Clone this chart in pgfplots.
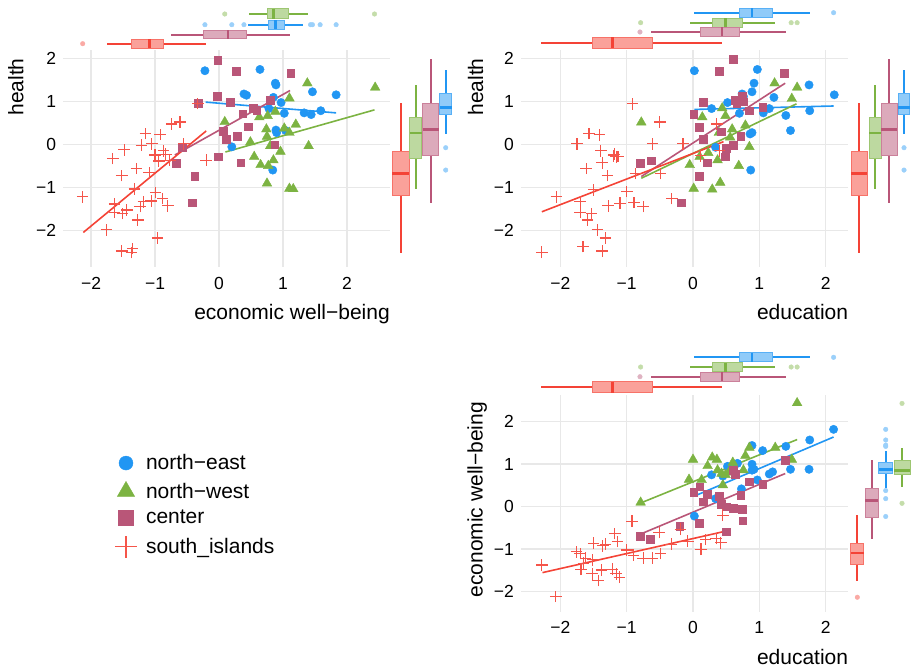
\documentclass[border=0pt]{standalone}
\usepackage{fontspec}
\setmainfont{Liberation Sans}
\usepackage{pgfplots}
\pgfplotsset{compat=1.18}
\usepgfplotslibrary{statistics}

\definecolor{cne}{HTML}{2196F3}
\definecolor{cnw}{HTML}{7CB342}
\definecolor{cce}{HTML}{B95678}
\definecolor{csi}{HTML}{F44336}
\definecolor{csil}{HTML}{F5554A}
\definecolor{gridc}{HTML}{E8E8E8}

% thin plus sign used for the south_islands points
\pgfdeclareplotmark{crs}{%
  \pgfpathmoveto{\pgfqpoint{-\pgfplotmarksize}{0pt}}%
  \pgfpathlineto{\pgfqpoint{\pgfplotmarksize}{0pt}}%
  \pgfpathmoveto{\pgfqpoint{0pt}{-\pgfplotmarksize}}%
  \pgfpathlineto{\pgfqpoint{0pt}{\pgfplotmarksize}}%
  \pgfusepathqstroke}

\newcommand\ticksize{\fontsize{17.5bp}{20bp}\selectfont}
\newcommand\labsize{\fontsize{21bp}{25bp}\selectfont}

\pgfplotsset{
  panel/.style={scale only axis, axis line style={draw=none},
    tick style={draw=none}, grid=major, major grid style={line width=1.5bp, color=gridc},
    xtick={-2,-1,0,1,2}, ytick={-2,-1,0,1,2},
    xticklabels={−2,−1,0,1,2}, yticklabels={−2,−1,0,1,2},
    tick label style={font=\ticksize},
    xticklabel style={anchor=base, inner sep=0pt, yshift=-22bp},
    yticklabel style={anchor=east, inner sep=0pt, xshift=-7bp},
    label style={font=\labsize, inner sep=0pt},
    xlabel style={at={(axis description cs:1,0)}, anchor=base east, yshift=-52bp}},
  margin/.style={scale only axis, hide axis, clip=false},
  ne/.style={only marks, mark=*, mark size=4.2bp, color=cne},
  nw/.style={only marks, mark=triangle*, mark size=5.6bp, color=cnw},
  ce/.style={only marks, mark=square*, mark size=3.9bp, color=cce},
  si/.style={only marks, mark=crs, mark size=5.8bp, color=csil, line width=1.2bp},
  fit/.style={line width=1.6bp, no marks},
  out/.style={only marks, mark=*, mark size=2.3bp, color=#1!45},
}

% marginal box: direction, colour, position, thickness, lw, lq, median, uq, uw
\newcommand\margbox[9]{%
  \addplot[boxplot prepared={draw direction=#1, draw position=#3, box extend=#4,
    lower whisker=#5, lower quartile=#6, median=#7, upper quartile=#8, upper whisker=#9,
    whisker extend=0,
    every box/.style={draw=#2!75, fill=#2!50, line width=1bp},
    every whisker/.style={draw=#2, line width=1.8bp},
    every median/.style={draw=#2, line width=2.6bp}}] coordinates {};}

\begin{document}
\begin{tikzpicture}[x=1bp,y=1bp]
\useasboundingbox (0,0) rectangle (911,-670);

% ---------------- economic well-being vs health ----------------
\begin{axis}[panel, at={(63.3bp,-267bp)}, anchor=south west, width=326.7bp, height=217bp,
  xmin=-2.433, xmax=2.672, ymin=-2.844, ymax=2.202,
  xlabel={economic well−being}, ylabel={health},
  ylabel style={at={(axis description cs:-0.122,0.962)}, anchor=base east}]
\addplot[ne] coordinates {(-0.22,1.72) (0.64,1.75) (0.88,1.43) (0.89,1.39) (1.46,1.23) (1.83,1.16)
  (0.39,1.18) (0.43,1.15) (0.85,1.10) (0.97,0.98) (0.78,0.84) (1.02,0.73) (1.33,0.74) (1.44,0.70)
  (1.59,0.79) (0.89,0.34) (0.90,0.28) (1.04,0.33) (0.20,-0.05) (0.84,-0.59)};
\addplot[nw] coordinates {(1.38,1.43) (2.44,1.33) (1.10,1.08) (0.63,0.64) (0.76,0.67) (0.88,0.77)
  (0.09,0.53) (0.74,0.36) (1.20,0.47) (1.02,0.38) (1.10,0.28) (0.75,0.19) (0.49,0.06) (0.80,-0.03)
  (1.40,-0.03) (0.96,-0.16) (0.55,-0.28) (0.65,-0.47) (0.85,-0.36) (0.77,-0.49) (0.75,-0.90)
  (1.10,-1.02) (1.16,-1.03)};
\addplot[ce] coordinates {(-0.02,1.97) (0.27,1.70) (1.12,1.67) (-0.03,1.12) (0.17,0.98) (-0.33,0.96)
  (0.80,1.04) (0.54,0.84) (0.59,0.81) (0.37,0.72) (0.45,0.42) (0.06,0.31) (0.11,0.12) (0.28,0.19)
  (-0.58,-0.07) (0.87,0.00) (-0.01,-0.28) (0.34,-0.42) (-0.67,-0.43) (-0.38,-0.74) (-0.42,-1.35)};
\addplot[si] coordinates {(-0.33,0.96) (-0.61,0.53) (-0.74,0.48) (-1.15,0.26) (-0.92,0.24) (-1.21,-0.01)
  (-1.05,0.02) (-0.55,0.02) (-1.48,-0.12) (-1.66,-0.32) (-0.87,-0.14) (-1.00,-0.24) (-0.83,-0.22)
  (-0.94,-0.38) (-0.77,-0.36) (-0.20,-0.36) (-1.29,-0.55) (-1.09,-0.65) (-1.52,-0.72) (-1.32,-1.03)
  (-0.99,-1.11) (-2.13,-1.21) (-0.88,-1.25) (-1.63,-1.38) (-1.18,-1.33) (-1.06,-1.31) (-1.23,-1.44)
  (-0.80,-1.42) (-1.63,-1.57) (-1.44,-1.52) (-1.51,-1.60) (-1.27,-1.75) (-1.76,-1.98) (-0.96,-2.17)
  (-1.52,-2.47) (-1.35,-2.41) (-1.37,-2.51)};
\addplot[fit, cne] coordinates {(-0.21,0.99) (1.83,0.74)};
\addplot[fit, cnw] coordinates {(0.10,-0.17) (2.43,0.81)};
\addplot[fit, cce] coordinates {(-0.69,-0.24) (1.11,1.26)};
\addplot[fit, csi] coordinates {(-2.12,-2.04) (-0.20,0.32)};
\end{axis}

% marginal boxes, economic well-being
\begin{axis}[margin, at={(63.3bp,-50bp)}, anchor=south west, width=326.7bp, height=50bp,
  xmin=-2.433, xmax=2.672, ymin=0, ymax=50, y dir=reverse]
\margbox{x}{cnw}{14}{10}{0.47}{0.75}{0.85}{1.09}{1.39}
\margbox{x}{cne}{24.7}{9}{0.45}{0.77}{0.88}{1.03}{1.32}
\margbox{x}{cce}{34.7}{8.5}{-0.75}{-0.25}{0.14}{0.43}{1.11}
\margbox{x}{csi}{43.7}{8.7}{-1.75}{-1.36}{-1.09}{-0.86}{-0.20}
\addplot[out=cnw] coordinates {(0.09,14) (2.43,14)};
\addplot[out=cne] coordinates {(-0.22,24.7) (0.20,24.7) (0.39,24.7) (1.43,24.7) (1.46,24.7) (1.58,24.7) (1.83,24.7)};
\addplot[out=csi] coordinates {(-2.13,43.7)};
\end{axis}

% marginal boxes, health
\begin{axis}[margin, at={(390bp,-267bp)}, anchor=south west, width=80bp, height=217bp,
  xmin=390, xmax=470, ymin=-2.844, ymax=2.202]
\margbox{y}{csi}{400.7}{16.7}{-2.51}{-1.19}{-0.67}{-0.16}{0.96}
\margbox{y}{cnw}{415.7}{11.7}{-1.04}{-0.32}{0.27}{0.64}{1.39}
\margbox{y}{cce}{430.7}{16}{-1.35}{-0.24}{0.36}{0.96}{1.99}
\margbox{y}{cne}{445.7}{11.7}{0.26}{0.71}{0.87}{1.18}{1.74}
\addplot[out=cne] coordinates {(445.7,-0.07) (445.7,-0.59)};
\end{axis}

% ---------------- education vs health ----------------
\begin{axis}[panel, at={(521bp,-267bp)}, anchor=south west, width=327.3bp, height=217bp,
  xmin=-2.594, xmax=2.342, ymin=-2.844, ymax=2.202,
  xlabel={education}, ylabel={health},
  ylabel style={at={(axis description cs:-0.116,0.962)}, anchor=base east}]
\addplot[ne] coordinates {(0.02,1.72) (0.97,1.75) (0.92,1.43) (0.74,1.18) (0.76,1.12) (0.89,1.23)
  (1.75,1.39) (1.22,1.10) (0.52,0.98) (0.28,0.84) (0.70,0.73) (1.06,0.74) (1.15,0.84) (1.76,0.79)
  (1.40,0.68) (2.13,1.16) (1.47,0.33) (0.89,0.28) (0.86,0.25) (0.34,-0.06) (0.87,-0.59)};
\addplot[nw] coordinates {(1.23,1.43) (1.57,1.33) (1.49,1.07) (0.44,0.85) (0.49,0.67) (0.14,0.64)
  (-0.78,0.52) (0.59,0.36) (0.79,0.45) (0.39,0.28) (0.56,0.17) (0.85,-0.05) (0.23,-0.19) (0.10,-0.28)
  (0.37,-0.36) (-0.05,-0.47) (0.69,-0.49) (0.01,-1.02) (0.29,-1.04) (0.41,-0.88)};
\addplot[ce] coordinates {(0.60,1.98) (0.39,1.70) (1.38,1.67) (0.15,0.98) (0.01,0.71) (0.63,1.04)
  (0.74,1.13) (0.66,0.96) (0.76,1.00) (0.85,0.79) (1.05,0.87) (0.09,0.40) (0.15,0.12) (0.42,0.30)
  (0.72,0.19) (0.60,-0.01) (0.50,-0.09) (0.48,-0.28) (-0.80,-0.43) (-0.63,-0.37) (0.21,-0.42)
  (0.09,-0.74) (-0.18,-1.35)};
\addplot[si] coordinates {(-0.91,0.95) (-0.50,0.53) (0.36,0.48) (-1.75,0.02) (-1.57,0.26) (-1.41,0.23)
  (-0.61,0.02) (-0.15,0.02) (-1.39,-0.14) (-1.19,-0.22) (-1.16,-0.28) (-1.20,-0.26) (-1.13,-0.27)
  (-1.37,-0.42) (-1.61,-0.55) (-1.29,-0.72) (-0.87,-0.67) (-0.49,-0.67) (0.11,-0.26) (0.40,-0.14)
  (-0.32,-1.25) (-1.50,-1.05) (-1.00,-1.09) (-2.06,-1.21) (-1.70,-1.33) (-1.28,-1.42) (-1.10,-1.36)
  (-0.89,-1.34) (-0.75,-1.44) (-1.70,-1.57) (-1.53,-1.60) (-1.59,-1.75) (-1.44,-1.98) (-1.32,-2.17)
  (-1.66,-2.37) (-1.37,-2.47) (-2.28,-2.50)};
\addplot[fit, cne] coordinates {(0.02,0.82) (2.12,0.90)};
\addplot[fit, cnw] coordinates {(-0.78,-0.78) (1.56,0.95)};
\addplot[fit, cce] coordinates {(-0.78,-0.74) (1.39,1.43)};
\addplot[fit, csi] coordinates {(-2.28,-1.56) (0.46,0.07)};
\end{axis}

% marginal boxes, education
\begin{axis}[margin, at={(521bp,-50bp)}, anchor=south west, width=327.3bp, height=50bp,
  xmin=-2.594, xmax=2.342, ymin=0, ymax=50, y dir=reverse]
\margbox{x}{cne}{12.7}{9}{0.02}{0.70}{0.89}{1.20}{1.77}
\margbox{x}{cnw}{22.7}{9}{-0.05}{0.29}{0.49}{0.74}{1.24}
\margbox{x}{cce}{32}{9}{-0.63}{0.11}{0.44}{0.70}{1.40}
\margbox{x}{csi}{42.7}{11}{-2.29}{-1.52}{-1.21}{-0.61}{0.44}
\addplot[out=cne] coordinates {(2.12,12.7)};
\addplot[out=cnw] coordinates {(-0.79,22.7) (1.48,22.7) (1.57,22.7)};
\addplot[out=cce] coordinates {(-0.80,32)};
\end{axis}

% marginal boxes, health
\begin{axis}[margin, at={(848.3bp,-267bp)}, anchor=south west, width=62.7bp, height=217bp,
  xmin=848.3, xmax=911, ymin=-2.844, ymax=2.202]
\margbox{y}{csi}{859.3}{15.7}{-2.51}{-1.19}{-0.67}{-0.16}{0.96}
\margbox{y}{cnw}{875}{12}{-1.04}{-0.32}{0.27}{0.64}{1.39}
\margbox{y}{cce}{889.3}{15.7}{-1.35}{-0.24}{0.36}{0.96}{1.99}
\margbox{y}{cne}{904}{11.7}{0.26}{0.71}{0.87}{1.18}{1.74}
\addplot[out=cne] coordinates {(904,-0.07) (904,-0.59)};
\end{axis}

% ---------------- education vs economic well-being ----------------
\begin{axis}[panel, at={(521bp,-611.7bp)}, anchor=south west, width=327.3bp, height=216.7bp,
  xmin=-2.594, xmax=2.342, ymin=-2.47, ymax=2.628,
  xlabel={education}, ylabel={economic well−being},
  xlabel style={yshift=-1bp},
  ylabel style={at={(axis description cs:-0.117,0.969)}, anchor=base east}]
\addplot[ne] coordinates {(2.12,1.82) (1.76,1.57) (0.89,1.44) (1.40,1.42) (1.05,1.32) (0.52,0.95)
  (0.67,1.02) (0.89,1.00) (0.89,0.86) (0.92,0.88) (1.47,0.88) (1.75,0.88) (1.20,0.82) (1.15,0.77)
  (0.28,0.75) (0.97,0.63) (0.45,0.72) (0.73,0.42) (0.34,0.19) (0.02,-0.22)};
\addplot[nw] coordinates {(1.57,2.44) (0.00,1.11) (0.29,1.16) (0.36,1.11) (0.60,1.04) (0.22,0.96)
  (0.37,0.86) (0.79,1.20) (0.85,1.39) (1.24,1.39) (1.49,1.11) (-0.06,0.64) (0.13,0.63) (0.43,0.78)
  (0.49,0.75) (0.54,0.81) (0.76,0.86) (0.45,0.51) (-0.79,0.10)};
\addplot[ce] coordinates {(1.39,1.10) (0.60,0.86) (0.64,0.77) (0.85,0.59) (1.05,0.53) (0.10,0.47)
  (0.01,0.35) (0.21,0.30) (0.15,0.12) (0.39,0.25) (0.72,0.28) (0.42,0.05) (0.50,0.00) (0.60,-0.03)
  (0.74,-0.05) (0.75,-0.33) (0.09,-0.39) (-0.20,-0.45) (0.50,-0.59) (-0.64,-0.76) (-0.80,-0.69)};
\addplot[si] coordinates {(0.45,-0.20) (-0.92,-0.34) (-1.18,-0.63) (-0.51,-0.61) (-0.19,-0.53)
  (-1.14,-0.82) (-1.32,-0.88) (-1.36,-0.92) (-1.50,-0.86) (-1.00,-1.02) (-0.90,-1.14) (-0.75,-1.21)
  (-0.61,-1.21) (-0.49,-1.10) (-0.33,-0.88) (-0.08,-0.81) (0.12,-1.00) (0.19,-0.77) (0.35,-0.75)
  (0.42,-0.85) (-1.76,-1.06) (-1.70,-1.10) (-1.62,-1.21) (-1.51,-1.25) (-1.65,-1.33) (-1.69,-1.47)
  (-1.52,-1.58) (-1.38,-1.49) (-1.22,-1.47) (-1.43,-1.74) (-1.16,-1.58) (-1.11,-1.66) (-2.28,-1.37)
  (-2.07,-2.11)};
\addplot[fit, cne] coordinates {(0.02,0.25) (2.12,1.64)};
\addplot[fit, cnw] coordinates {(-0.77,0.10) (1.57,1.58)};
\addplot[fit, cce] coordinates {(-0.77,-0.63) (1.39,0.78)};
\addplot[fit, csi] coordinates {(-2.27,-1.55) (0.45,-0.59)};
\end{axis}

% marginal boxes, education
\begin{axis}[margin, at={(521bp,-395bp)}, anchor=south west, width=327.3bp, height=55bp,
  xmin=-2.594, xmax=2.342, ymin=340, ymax=395, y dir=reverse]
\margbox{x}{cne}{357.3}{8.7}{0.02}{0.70}{0.89}{1.20}{1.77}
\margbox{x}{cnw}{367}{9}{-0.05}{0.29}{0.49}{0.74}{1.24}
\margbox{x}{cce}{376.7}{9}{-0.63}{0.11}{0.44}{0.70}{1.40}
\margbox{x}{csi}{387}{11}{-2.29}{-1.52}{-1.21}{-0.61}{0.44}
\addplot[out=cne] coordinates {(2.12,357.3)};
\addplot[out=cnw] coordinates {(-0.79,367) (1.48,367) (1.57,367)};
\addplot[out=cce] coordinates {(-0.80,376.7)};
\end{axis}

% marginal boxes, economic well-being
\begin{axis}[margin, at={(848.3bp,-611.7bp)}, anchor=south west, width=62.7bp, height=216.7bp,
  xmin=848.3, xmax=911, ymin=-2.47, ymax=2.628]
\margbox{y}{csi}{857.3}{13}{-1.75}{-1.36}{-1.09}{-0.86}{-0.20}
\margbox{y}{cce}{871.7}{12.7}{-0.75}{-0.25}{0.14}{0.43}{1.11}
\margbox{y}{cne}{885.7}{13.7}{0.45}{0.77}{0.88}{1.03}{1.32}
\margbox{y}{cnw}{902}{16}{0.47}{0.75}{0.85}{1.09}{1.39}
\addplot[out=csi] coordinates {(857.3,-2.13)};
\addplot[out=cne] coordinates {(885.7,1.82) (885.7,1.57) (885.7,1.45) (885.7,1.42) (885.7,0.38) (885.7,0.19) (885.7,-0.23)};
\addplot[out=cnw] coordinates {(902,2.43) (902,0.08)};
\end{axis}

% ---------------- legend ----------------
\begin{axis}[hide axis, scale only axis, at={(115bp,-454.7bp)}, anchor=north west,
  width=100bp, height=80bp, xmin=0, xmax=1, ymin=0, ymax=1,
  legend cell align=left,
  legend style={draw=none, fill=none, at={(axis description cs:0,1)}, anchor=north west,
    inner sep=0pt, outer sep=0pt, font=\labsize, row sep=10bp, column sep=9bp,
    nodes={inner sep=0pt}},
  legend image code/.code={\path[draw=none, fill=none] (-10bp,-8bp) rectangle (10bp,8bp);
    \draw[#1, /tikz/only marks] plot coordinates {(0bp,0bp)};}]
\addlegendimage{mark=*, mark size=7bp, cne}
\addlegendentry{north−east}
\addlegendimage{mark=triangle*, mark size=10bp, cnw}
\addlegendentry{north−west}
\addlegendimage{mark=square*, mark size=7.5bp, cce}
\addlegendentry{center}
\addlegendimage{mark=crs, mark size=11bp, csil, line width=1.1bp}
\addlegendentry{south\_islands}
\end{axis}
\end{tikzpicture}
\end{document}
